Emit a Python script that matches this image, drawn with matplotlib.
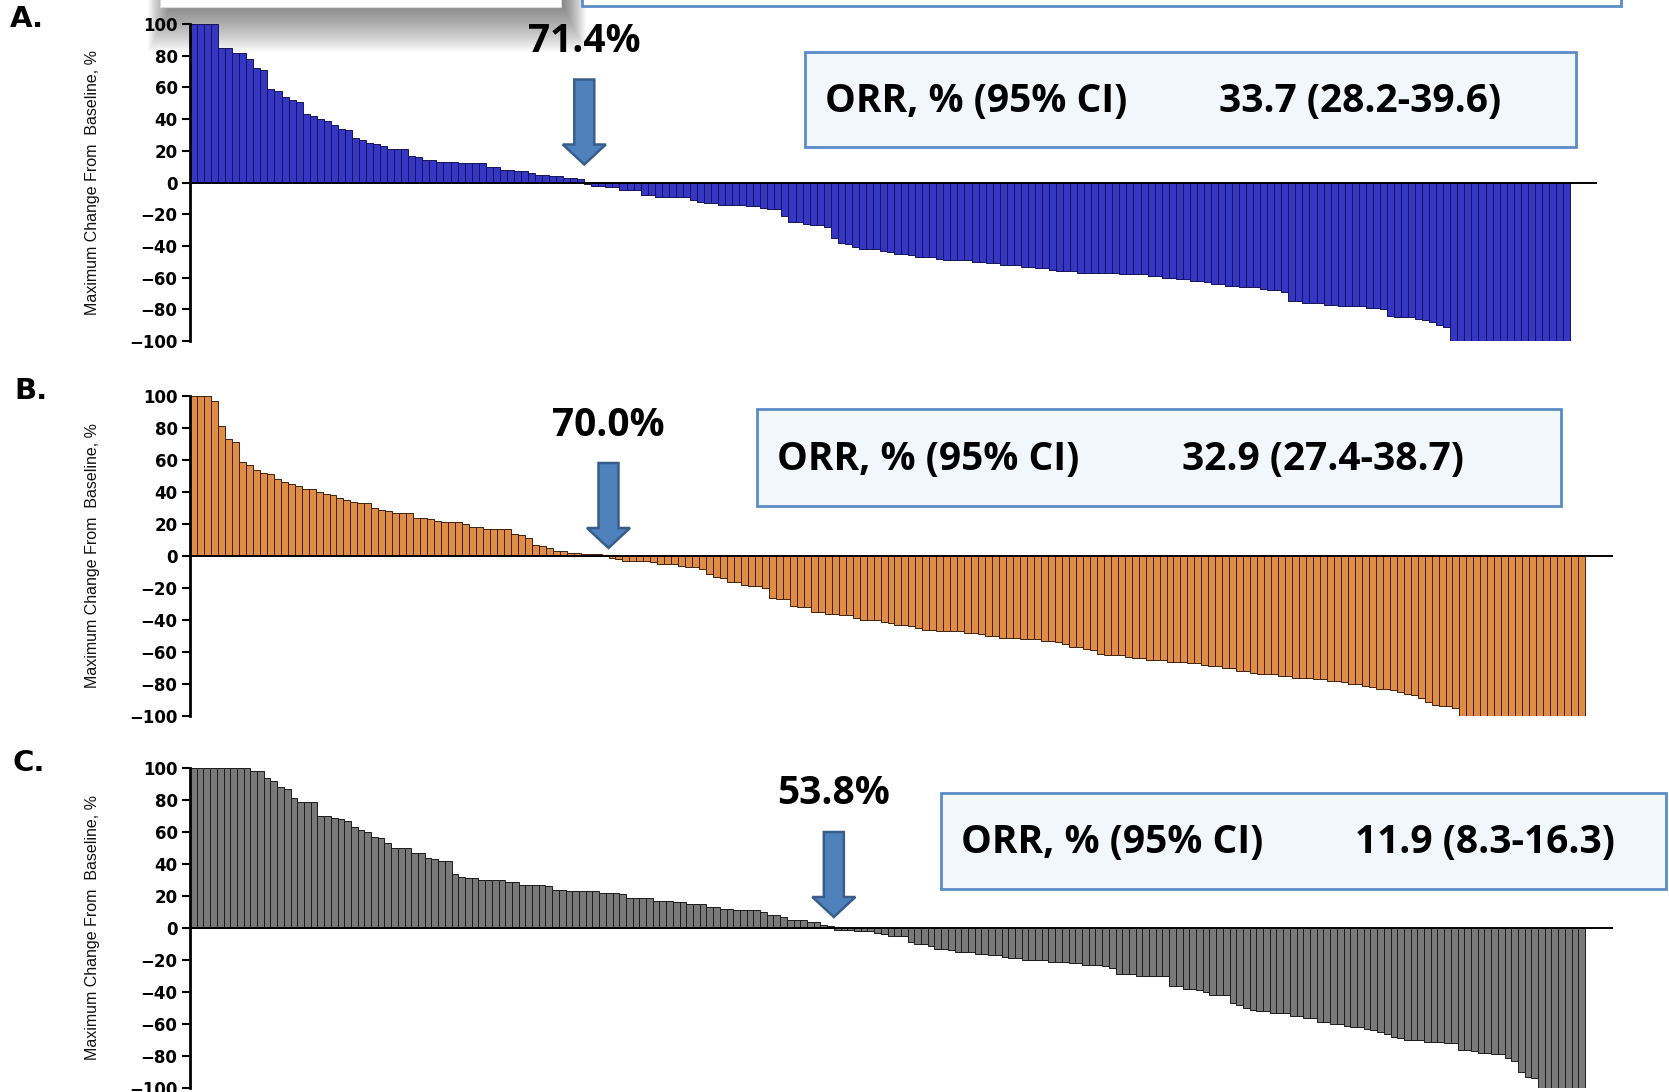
import matplotlib
matplotlib.use("Agg")
import matplotlib.pyplot as plt
from matplotlib.patches import Rectangle, FancyArrow
import numpy as np

W, H, DPI = 1669, 1092, 100

# Best percentage change from baseline in target lesions, one value per patient (sorted)
change_a = [
    100, 100, 100, 100, 85, 85, 82, 82, 78, 72, 71, 59, 58, 54, 52, 51, 43, 42, 40, 39,
    36, 34, 33, 28, 27, 25, 24, 23, 21, 21, 21, 17, 16, 14, 14, 13, 13, 13, 12, 12,
    12, 12, 10, 10, 8, 8, 7, 7, 6, 5, 5, 4, 4, 3, 3, 2,
    -1, -2, -2, -3, -3, -5, -5, -5, -8, -8, -9, -9, -9, -9, -9, -11, -12,
    -13, -13, -14, -14, -14, -14, -15, -15, -16, -17, -17, -21, -25, -25,
    -26, -27, -27, -28, -35, -38, -39, -41, -42, -42, -42, -43, -44, -45, -45,
    -46, -47, -47, -47, -48, -49, -49, -49, -49, -50, -50, -51, -51,
    -52, -52, -52, -53, -53, -54, -54, -55, -56, -56, -56,
    -57, -57, -57, -57, -57, -57, -58, -58, -58, -58, -59, -59, -60, -60,
    -61, -61, -62, -62, -63, -64, -64, -65, -65, -66, -66, -66, -67,
    -68, -68, -69, -75, -75, -76, -76, -76, -77, -77, -78, -78, -78, -78,
    -79, -79, -80, -84, -85, -85, -85, -86, -87, -88, -90, -91,
    -100, -100, -100, -100, -100, -100, -100, -100, -100, -100, -100, -100,
    -100, -100, -100, -100, -100,
]

change_b = [
    100, 100, 100, 97, 81, 73, 71, 59, 57, 54, 52, 51, 48, 46, 45, 44, 42, 42, 40, 39,
    38, 36, 35, 34, 33, 33, 30, 29, 28, 27, 27, 27, 24, 24, 23, 22, 21, 21, 21, 20,
    18, 18, 17, 17, 17, 17, 14, 13, 11, 7, 6, 5, 3, 3, 2, 2, 1, 1, 1, 0.5,
    -1, -2, -3, -3, -3, -3, -4, -5, -5, -5, -6, -7, -7, -8, -11, -13, -14,
    -16, -16, -18, -19, -19, -20, -26, -27, -27, -31, -32, -32,
    -35, -35, -36, -36, -37, -37, -39, -40, -40, -40, -41, -42, -43,
    -43, -44, -45, -46, -46, -47, -47, -47, -47, -48, -48, -49, -50, -50,
    -51, -51, -51, -52, -52, -52, -53, -53, -54, -55, -57, -57, -58, -59,
    -61, -62, -62, -62, -63, -64, -64, -65, -65, -65, -66, -66,
    -66, -67, -67, -68, -69, -69, -70, -70, -72, -72, -73,
    -74, -74, -74, -75, -75, -76, -76, -76, -77, -77, -78, -78, -79,
    -80, -80, -81, -82, -83, -83, -84, -85, -86, -87, -89, -91,
    -93, -94, -94, -95,
    -100, -100, -100, -100, -100, -100, -100, -100, -100, -100, -100, -100,
    -100, -100, -100, -100, -100, -100,
]

change_c = [
    100, 100, 100, 100, 100, 100, 100, 100, 100, 98,
    98, 94, 92, 88, 87, 81, 79, 79, 79, 70,
    70, 69, 68, 67, 63, 61, 60, 57, 56, 53,
    50, 50, 50, 47, 47, 44, 43, 42, 42, 34,
    32, 31, 31, 30, 30, 30, 30, 29, 29, 27,
    27, 27, 27, 26, 24, 24, 23, 23, 23, 23,
    23, 22, 22, 22, 21, 19, 19, 19, 19, 17,
    17, 17, 16, 16, 15, 15, 15, 13, 13, 12,
    12, 11, 11, 11, 11, 10, 8, 8, 7, 5,
    5, 5, 4, 4, 2, 1,
    -1, -1, -1, -2, -2, -2, -3, -4, -5, -5, -5, -9, -10, -10, -11,
    -13, -13, -14, -15, -15, -15, -16, -16, -17, -17, -18, -19, -19,
    -20, -20, -20, -20, -21, -21, -21, -22, -22, -23, -23, -23, -24, -25,
    -29, -29, -29, -30, -30, -30, -30, -30, -36, -36, -38, -38, -39, -40,
    -42, -42, -42, -47, -48, -50, -51, -52, -52, -53, -53, -53,
    -55, -55, -56, -56, -59, -59, -60, -60, -61, -62, -62, -63, -64, -65,
    -66, -68, -69, -70, -70, -70, -71, -71, -71, -72, -72,
    -76, -76, -77, -78, -78, -79, -79, -81, -83, -90, -93, -94,
    -100, -100, -100, -100, -100, -100, -100,
]

panel_letters = ["A.", "B.", "C."]
reduction_pct = ["71.4%", "70.0%", "53.8%"]
orr_label = "ORR, % (95% CI)"
orr_values = ["33.7 (28.2-39.6)", "32.9 (27.4-38.7)", "11.9 (8.3-16.3)"]
y_ticks = [-100, -80, -60, -40, -20, 0, 20, 40, 60, 80, 100]
y_label = "Maximum Change From  Baseline, %"

# Panel geometry in pixels (top/bottom of the +-100 range, end of bars and of the zero line)
panels = [
    dict(data=change_a, top=24, bottom=341, bars_end=1570, zero_end=1597,
         face="#3636c4", edge="#141456", letter_xy=(10, 19),
         tip_px=18, box=(805, 52, 1576, 147), val_x=1219),
    dict(data=change_b, top=396, bottom=716, bars_end=1585, zero_end=1613,
         face="#de8c47", edge="#3f220a", letter_xy=(14, 391),
         tip_px=8, box=(757, 409, 1561, 506), val_x=1182),
    dict(data=change_c, top=768, bottom=1088, bars_end=1585, zero_end=1613,
         face="#797979", edge="#1c1c1c", letter_xy=(12, 763),
         tip_px=11, box=(941, 793, 1666, 889), val_x=1355),
]
AX_LEFT = 190

BOX_FACE = "#f2f7fb"
BOX_EDGE = "#5b8cc8"
ARROW_FACE = "#4f81bd"
ARROW_EDGE = "#385d8a"
CALLOUT_FONT = ["Open Sans", "DejaVu Sans"]
NARROW_FONT = ["Liberation Sans Narrow", "Liberation Sans", "DejaVu Sans"]


def fx(x):
    return x / W


def fy(y):
    return 1 - y / H


fig = plt.figure(figsize=(W / DPI, H / DPI), dpi=DPI)
fig.patch.set_facecolor("white")

# Boxes cut off by the top edge, with a soft drop shadow under the white one
for i in range(24):
    s = i * 2.0
    fig.add_artist(Rectangle((fx(163 - 0.5 * s + 8), fy(6 + s)),
                             (392 + 1.0 * s) / W, (40 + s) / H,
                             transform=fig.transFigure, facecolor="black",
                             edgecolor="none", alpha=0.024, zorder=-2))
fig.add_artist(Rectangle((fx(160), fy(7)), 401 / W, 40 / H, transform=fig.transFigure,
                         facecolor="white", edgecolor="#dcdcdc", lw=0.8, zorder=-1))
fig.add_artist(Rectangle((fx(582), fy(6)), 1039 / W, 40 / H, transform=fig.transFigure,
                         facecolor="white", edgecolor=BOX_EDGE, lw=2, zorder=-1))

for k, p in enumerate(panels):
    vals = np.asarray(p["data"], dtype=float)
    n = len(vals)
    ax_w = p["zero_end"] - AX_LEFT
    ax_h = p["bottom"] - p["top"]
    ax = fig.add_axes([fx(AX_LEFT), fy(p["bottom"]), ax_w / W, ax_h / H])
    ax.patch.set_alpha(0)

    bar_px = (p["bars_end"] - AX_LEFT) / n
    ypx = ax_h / 200.0
    ax.bar(np.arange(n), vals, width=1.0, color=p["face"], edgecolor=p["edge"],
           linewidth=0.7, zorder=2)
    ax.set_xlim(-0.5, -0.5 + ax_w / bar_px)
    ax.set_ylim(-100, 100)
    ax.axhline(0, color="black", lw=1.4, zorder=3)

    for side in ("top", "right", "bottom"):
        ax.spines[side].set_visible(False)
    ax.spines["left"].set_linewidth(2)
    ax.set_xticks([])
    ax.set_yticks(y_ticks)
    ax.tick_params(axis="y", direction="out", length=6, width=1.5, pad=3)
    for t in ax.get_yticklabels():
        t.set_fontfamily("DejaVu Sans")
        t.set_fontweight("bold")
        t.set_fontsize(12)

    ax.set_ylabel(y_label, fontsize=11.5, fontfamily=NARROW_FONT, color="#111111")
    ax.yaxis.label.set_va("center")
    ax.yaxis.set_label_coords((92 - AX_LEFT) / ax_w, 0.5)

    # Block arrow marking where tumour shrinkage begins
    n_growth = int(np.sum(vals >= 0))
    x_cross = n_growth - 0.5
    tip = p["tip_px"] / ypx
    top = tip + 85 / ypx
    ax.add_patch(FancyArrow(x_cross, top, 0, -(top - tip), width=20 / bar_px,
                            head_width=43 / bar_px, head_length=20 / ypx,
                            length_includes_head=True, facecolor=ARROW_FACE,
                            edgecolor=ARROW_EDGE, linewidth=1.8, zorder=5,
                            clip_on=False))
    ax.annotate(reduction_pct[k], xy=(x_cross, top), xytext=(0, 38),
                textcoords="offset pixels", ha="center", va="center",
                fontsize=28, fontweight="bold", fontfamily=CALLOUT_FONT,
                zorder=6, annotation_clip=False)

    # Objective response rate box
    x0, y0, x1, y1 = p["box"]
    fig.add_artist(Rectangle((fx(x0), fy(y1)), (x1 - x0) / W, (y1 - y0) / H,
                             transform=fig.transFigure, facecolor=BOX_FACE,
                             edgecolor=BOX_EDGE, lw=2, zorder=5))
    yc = fy((y0 + y1) / 2 + 2)
    fig.text(fx(x0 + 20), yc, orr_label, ha="left", va="center", fontsize=28,
             fontweight="bold", fontfamily=CALLOUT_FONT, zorder=6)
    fig.text(fx(p["val_x"]), yc, orr_values[k], ha="left", va="center", fontsize=28,
             fontweight="bold", fontfamily=CALLOUT_FONT, zorder=6)

    lx, ly = p["letter_xy"]
    fig.text(fx(lx), fy(ly), panel_letters[k], ha="left", va="center", fontsize=21,
             fontweight="bold", fontfamily="DejaVu Sans")

fig.savefig("out.png", dpi=DPI, facecolor="white")
